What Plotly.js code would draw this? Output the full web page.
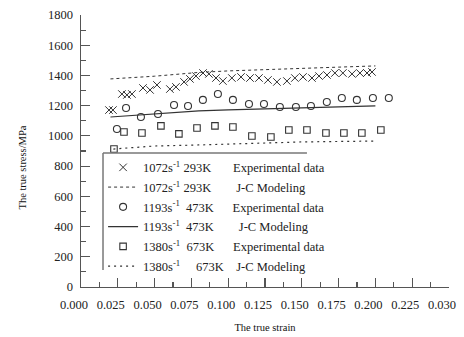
<!DOCTYPE html>
<html>
<head>
<meta charset="utf-8">
<script src="https://cdn.plot.ly/plotly-3.0.1.min.js"></script>
<style>html,body{margin:0;padding:0;background:#fff;}#chart{width:464px;height:337px;}</style>
</head>
<body>
<div id="chart"></div>
<script>
// ---- data ----
const strain1072 = [0.019,0.0217,0.0278,0.0312,0.0346,0.0421,0.0469,0.0516,0.0604,0.0645,0.0700,0.0740,0.0781,0.0829,0.0869,0.0917,0.0964,0.1025,0.1087,0.1148,0.1209,0.1270,0.1331,0.1399,0.1453,0.1508,0.1569,0.1617,0.1671,0.1725,0.1779,0.1841,0.1895,0.1943,0.1977];
const stress1072 = [1171,1171,1277,1271,1277,1317,1304,1337,1310,1324,1357,1377,1396,1416,1410,1383,1363,1383,1390,1383,1383,1370,1357,1363,1383,1390,1383,1396,1403,1416,1416,1410,1416,1416,1423];

const strain1193 = [0.0244,0.0306,0.0407,0.0523,0.0632,0.0727,0.0828,0.0930,0.1032,0.1141,0.1243,0.1351,0.1460,0.1562,0.1670,0.1772,0.1874,0.1983,0.2091];
const stress1193 = [1046,1185,1125,1145,1204,1198,1238,1277,1238,1211,1211,1191,1191,1198,1224,1251,1238,1251,1251];

const strain1380 = [0.0224,0.0292,0.0414,0.0543,0.0665,0.0788,0.0910,0.1032,0.1161,0.1290,0.1412,0.1535,0.1664,0.1786,0.1908,0.2037];
const stress1380 = [913,1026,1019,1066,1013,1052,1066,1059,999,993,1039,1039,1019,1019,1019,1039];

const jcStrain = [0.02,0.05,0.08,0.10,0.13,0.15,0.175,0.2];
const jc1072 = [1377,1395,1420,1430,1440,1445,1455,1463];
const jc1193 = [1125,1145,1165,1172,1182,1186,1192,1198];
const jcStrain1380 = [0.022,0.05,0.08,0.10,0.13,0.15,0.175,0.2];
const jc1380 = [913,933,940,946,955,960,963,966];

const xTickVals = [0,0.025,0.05,0.075,0.1,0.125,0.15,0.175,0.2,0.225,0.25];
const xTickText = ["0.000","0.025","0.050","0.075","0.100","0.125","0.150","0.175","0.200","0.225","0.030"];

const sp = n => '\u00a0'.repeat(n);
const legendNames = [
  "1072s<sup>-1</sup>" + sp(1) + "293K" + sp(7) + "Experimental data",
  "1072s<sup>-1</sup>" + sp(1) + "293K" + sp(8) + "J-C Modeling",
  "1193s<sup>-1</sup>" + sp(2) + "473K" + sp(6) + "Experimental data",
  "1193s<sup>-1</sup>" + sp(2) + "473K" + sp(8) + "J-C Modeling",
  "1380s<sup>-1</sup>" + sp(2) + "673K" + sp(6) + "Experimental data",
  "1380s<sup>-1</sup>" + sp(5) + "673K" + sp(4) + "J-C Modeling"
];

const ink = '#333';
const traces = [
  {x: strain1072, y: stress1072, mode: 'markers', name: legendNames[0], legendgroup: 'a',
   marker: {symbol: 'x-thin-open', size: 7.5, line: {width: 1, color: ink}, color: ink}},
  {x: jcStrain, y: jc1072, mode: 'lines', name: legendNames[1], legendgroup: 'b',
   line: {color: ink, width: 1, dash: 'dot'}},
  {x: strain1193, y: stress1193, mode: 'markers', name: legendNames[2], legendgroup: 'c',
   marker: {symbol: 'circle-open', size: 7, line: {width: 1.1, color: ink}, color: ink}},
  {x: jcStrain, y: jc1193, mode: 'lines', name: legendNames[3], legendgroup: 'd',
   line: {color: ink, width: 1.2}},
  {x: strain1380, y: stress1380, mode: 'markers', name: legendNames[4], legendgroup: 'e',
   marker: {symbol: 'square-open', size: 6.5, line: {width: 1.1, color: ink}, color: ink}},
  {x: jcStrain1380, y: jc1380, mode: 'lines', name: legendNames[5], legendgroup: 'f',
   line: {color: ink, width: 1.2, dash: '2px,4px'}}
];

const serif = 'Liberation Serif, Times New Roman, serif';
const axisCol = '#555';
const layout = {
  width: 464, height: 337,
  margin: {l: 81, r: 15, t: 15, b: 50},
  paper_bgcolor: '#fff', plot_bgcolor: '#fff',
  font: {family: serif, size: 12.5, color: '#222'},
  showlegend: true,
  legend: {x: 0.06, xanchor: 'left', y: 0.4937, yanchor: 'top',
           bgcolor: 'rgba(255,255,255,0)', borderwidth: 0,
           font: {family: serif, size: 12.5, color: '#222'}, tracegroupgap: 0.5},
  xaxis: {range: [0, 0.25], showline: true, linecolor: axisCol, linewidth: 1.4,
          ticks: 'inside', ticklen: 9, tickcolor: axisCol, tickwidth: 1.2,
          tickvals: xTickVals, ticktext: xTickText, ticklabelshift: -7, ticklabelstandoff: 6,
          minor: {ticks: 'inside', ticklen: 5, dtick: 0.0125, tickcolor: axisCol, tickwidth: 1.2},
          showgrid: false, zeroline: false, mirror: false,
          tickfont: {family: serif, size: 12.5, color: '#222'},
          title: {text: 'The true strain', font: {family: serif, size: 10.5, color: '#111'}, standoff: 12}},
  yaxis: {range: [0, 1800], showline: true, linecolor: axisCol, linewidth: 1.4,
          ticks: 'inside', ticklen: 9, tickcolor: axisCol, tickwidth: 1.2,
          tick0: 0, dtick: 200, ticklabelstandoff: 4,
          minor: {ticks: 'inside', ticklen: 5, dtick: 100, tickcolor: axisCol, tickwidth: 1.2},
          showgrid: false, zeroline: false,
          tickfont: {family: serif, size: 12.5, color: '#222'}},
  annotations: [
    {text: 'The true stress/MPa', xref: 'paper', yref: 'paper', x: -0.182, y: 0.4375,
     textangle: -90, showarrow: false, font: {family: serif, size: 10.5, color: '#111'}}
  ],
  shapes: [
    {type: 'line', xref: 'x', yref: 'y', x0: 0.01495, x1: 0.01495, y0: 887, y1: 112,
     line: {color: '#777', width: 1.5}},
    {type: 'line', xref: 'x', yref: 'y', x0: 0.01495, x1: 0.1535, y0: 887, y1: 887,
     line: {color: '#777', width: 1.5}}
  ]
};

Plotly.newPlot('chart', traces, layout, {staticPlot: true, displayModeBar: false});
</script>
</body>
</html>
